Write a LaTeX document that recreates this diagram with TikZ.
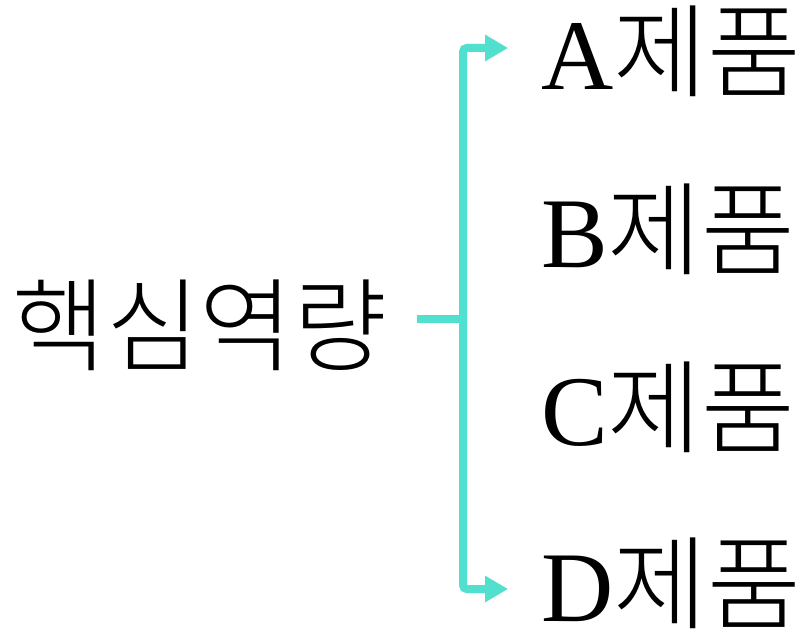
\documentclass[tikz,border=0pt]{standalone}
\usepackage{fontspec}
\setmainfont{Liberation Serif}
\newfontfamily\kr{Noto Sans CJK KR}[UprightFont=* Light]
\newcommand{\krt}[1]{{\kr\fontsize{102}{110}\selectfont #1}}
\usetikzlibrary{arrows.meta}
\definecolor{tealc}{RGB}{82,224,206}
\tikzset{
  lbl/.style={inner sep=0pt, font=\fontsize{100}{110}\selectfont, anchor=base west, text depth=8pt},
  conn/.style={line width=8pt, draw=tealc, rounded corners=4pt},
  shade/.style={line width=8pt, draw=black!55, opacity=0.2, rounded corners=4pt},
  tips/.style={{Triangle[length=23pt,width=25pt]}-{Triangle[length=23pt,width=25pt]}}
}
\begin{document}
\begin{tikzpicture}[x=1pt,y=-1pt]
\useasboundingbox[fill=white] (0,0) rectangle (808,642);
\node[lbl] (core) at (12,363) {\krt{핵심역량}};
\node[lbl] (a) at (541,89) {A\krt{제품}};
\node[lbl] (b) at (541,267) {B\krt{제품}};
\node[lbl] (c) at (541,445) {C\krt{제품}};
\node[lbl] (d) at (541,621) {D\krt{제품}};
\coordinate (ta) at (508,48);
\coordinate (top) at (463,48);
\coordinate (mid) at (463,319);
\coordinate (m0) at (417,319);
\coordinate (bot) at (463,589);
\coordinate (tb) at (508,589);
% shadow
\begin{scope}[shift={(2,4)}]
\draw[shade, tips] (ta) -- (top) -- (bot) -- (tb);
\draw[shade] (m0) -- (mid);
\end{scope}
\draw[conn, tips] (ta) -- (top) -- (bot) -- (tb);
\draw[conn] (m0) -- (mid);
\end{tikzpicture}
\end{document}
